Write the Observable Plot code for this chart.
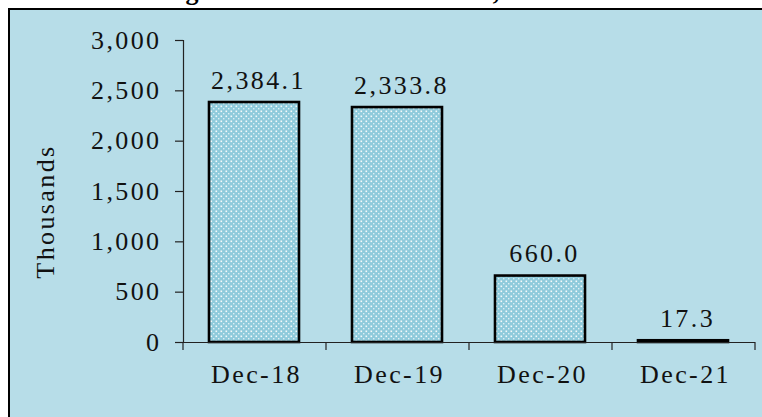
<!DOCTYPE html>
<html>
<head>
<meta charset="utf-8">
<script src="https://cdn.jsdelivr.net/npm/d3@7"></script>
<script src="https://cdn.jsdelivr.net/npm/@observablehq/plot@0.6"></script>
<style>
  html, body { margin: 0; padding: 0; background: #fff; overflow: hidden; }
  #wrap { position: relative; width: 762px; height: 417px; overflow: hidden; }
  #panel { position: absolute; left: 8px; top: 8px; width: 800px; height: 500px;
           border: 2px solid #000; background: #b7dde8; }
  #title { position: absolute; left: 0; width: 762px; top: -21px; text-align: center;
           font: bold 26px "Liberation Serif", serif; line-height: 26px; white-space: nowrap; color: #000; letter-spacing: 1px; }
  #chart { position: absolute; left: 0; top: 0; }
  #chart svg { background: transparent !important; }
  #chart svg text { letter-spacing: 2.4px; }
</style>
</head>
<body>
<div id="wrap">
  <div id="title">Figure 4.4: Tourist Arrivals, 2018-21</div>
  <div id="panel"></div>
  <svg width="0" height="0" style="position:absolute">
    <defs>
      <pattern id="dots" width="5" height="5" patternUnits="userSpaceOnUse">
        <rect width="5" height="5" fill="#8ecadb"></rect>
        <rect x="0.5" y="0.5" width="1.6" height="1.6" fill="#ffffff" opacity="0.9"></rect>
        <rect x="3" y="3" width="1.4" height="1.4" fill="#ffffff" opacity="0.7"></rect>
      </pattern>
    </defs>
  </svg>
  <div id="chart"></div>
</div>
<script>
const categories = ["Dec-18", "Dec-19", "Dec-20", "Dec-21"];
const values = [2384.1, 2333.8, 660.0, 17.3];
const yTicks = [0, 500, 1000, 1500, 2000, 2500, 3000];
const yLabel = "Thousands";

const data = categories.map((c, i) => ({cat: c, value: values[i]}));

const W = 762, H = 417;
const mL = 183, mR = 7, mT = 40, mB = 75;
const step = (W - mL - mR) / categories.length;
const font = "'Liberation Serif', serif";
const fmt = d3.format(",.1f");

const chart = Plot.plot({
  width: W,
  height: H,
  marginLeft: mL,
  marginRight: mR,
  marginTop: mT,
  marginBottom: mB,
  style: {background: "transparent", fontFamily: font, fontSize: "26px", color: "#111"},
  x: {domain: categories, paddingInner: 0.37, paddingOuter: 0.185},
  y: {domain: [0, 3000]},
  marks: [
    Plot.barY(data, {x: "cat", y: "value", fill: "url(#dots)", stroke: "#000", strokeWidth: 2.6}),
    Plot.ruleY([0], {stroke: "#222", strokeWidth: 1.2}),
    Plot.frame({anchor: "left", stroke: "#222", strokeWidth: 1.2}),
    Plot.axisY({ticks: yTicks, tickFormat: d3.format(","), tickSize: 8, tickPadding: 14,
                label: null, fontSize: 26, stroke: "#222", strokeWidth: 1.2}),
    Plot.axisX({tickSize: 0, tickPadding: 22, label: null, fontSize: 26, dx: 2}),
    Plot.axisX({tickSize: 8, text: null, dx: -step / 2, label: null, stroke: "#222", strokeWidth: 1.2}),
    Plot.axisX({ticks: [categories[categories.length - 1]], tickSize: 8, text: null, dx: step / 2, label: null, stroke: "#222", strokeWidth: 1.2}),
    Plot.text(data, {x: "cat", y: "value", text: d => fmt(d.value), lineAnchor: "bottom", dy: -14, dx: 4,
                     fontSize: 26, fill: "#111"}),
    Plot.text([yLabel], {frameAnchor: "left", dx: -(mL - 45), dy: 20, rotate: -90, textAnchor: "middle",
                         text: d => d, fontSize: 26, fill: "#111"})
  ]
});
document.getElementById("chart").appendChild(chart);
</script>
</body>
</html>
